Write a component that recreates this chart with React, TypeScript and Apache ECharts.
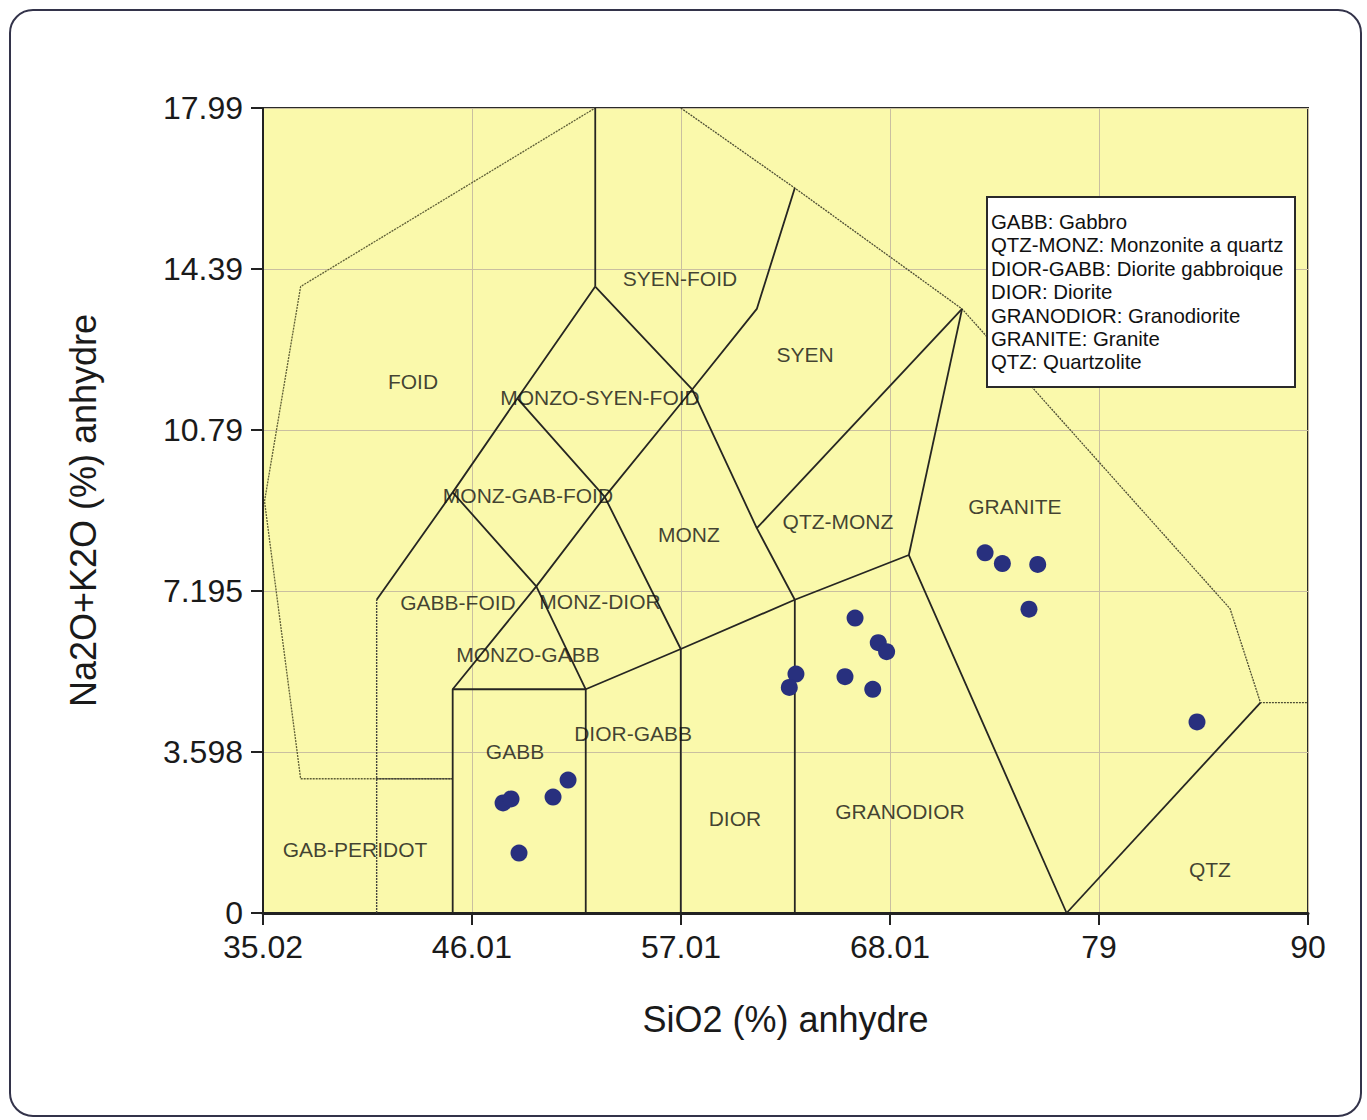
import React, { useEffect, useRef } from "react";
import * as echarts from "echarts";

// Axis ticks
const xTicks = [35.02, 46.01, 57.01, 68.01, 79, 90];
const xTickLabels = ["35.02", "46.01", "57.01", "68.01", "79", "90"];
const yTicks = [0, 3.598, 7.195, 10.79, 14.39, 17.99];
const yTickLabels = ["0", "3.598", "7.195", "10.79", "14.39", "17.99"];

// Classification field boundaries (SiO2, Na2O+K2O)
const outerLeft = [[45, 3], [37, 3], [35.1, 9.2], [37, 14], [52.5, 17.99]];
const outerRight = [[57, 17.99], [63, 16.2], [71.8, 13.5], [85.9, 6.8], [87.5, 4.7], [90, 4.7]];
const dottedBoundaries = [[[41, 0], [41, 7]], [[41, 3], [45, 3]]];
const solidBoundaries = [
  [[52.5, 17.99], [52.5, 14]],
  [[41, 7], [45, 9.4], [48.4, 11.5], [52.5, 14]],
  [[45, 0], [45, 5], [49.4, 7.3], [53, 9.3], [57.6, 11.7]],
  [[45, 9.4], [49.4, 7.3], [52, 5]],
  [[48.4, 11.5], [53, 9.3], [57, 5.9]],
  [[52.5, 14], [57.6, 11.7], [61, 8.6], [63, 7]],
  [[45, 5], [52, 5], [57, 5.9], [63, 7], [69, 8], [77.3, 0]],
  [[52, 0], [52, 5]],
  [[57, 0], [57, 5.9]],
  [[63, 0], [63, 7]],
  [[61, 8.6], [71.8, 13.5]],
  [[69, 8], [71.8, 13.5]],
  [[57.6, 11.7], [61, 13.5], [63, 16.2]],
  [[77.3, 0], [87.5, 4.7]],
];

// Samples
const sio2 = [47.65, 48.07, 50.28, 51.07, 48.49, 66.17, 67.39, 67.83, 63.06, 62.71, 65.64, 67.1, 73.01, 73.92, 75.78, 75.32, 84.16];
const alkalis = [2.46, 2.55, 2.59, 2.97, 1.34, 6.59, 6.04, 5.84, 5.34, 5.04, 5.28, 5.0, 8.05, 7.81, 7.79, 6.79, 4.27];

// Field names
const regionNames = ["FOID", "SYEN-FOID", "SYEN", "MONZO-SYEN-FOID", "MONZ-GAB-FOID", "MONZ", "QTZ-MONZ", "GRANITE", "GABB-FOID", "MONZ-DIOR", "MONZO-GABB", "DIOR-GABB", "GABB", "DIOR", "GRANODIOR", "GAB-PERIDOT", "QTZ"];
const regionX = [42.91, 56.96, 63.54, 52.75, 48.96, 57.43, 65.27, 74.58, 45.28, 52.75, 48.96, 54.49, 48.28, 59.85, 68.53, 39.86, 84.84];
const regionY = [11.87, 14.17, 12.49, 11.53, 9.34, 8.45, 8.76, 9.09, 6.95, 6.97, 5.77, 4.02, 3.6, 2.12, 2.26, 1.43, 0.98];

const legendLines = [
  "GABB: Gabbro",
  "QTZ-MONZ: Monzonite a quartz",
  "DIOR-GABB: Diorite gabbroique",
  "DIOR: Diorite",
  "GRANODIOR: Granodiorite",
  "GRANITE: Granite",
  "QTZ: Quartzolite",
];

const FONT = "'Liberation Sans', Arial, sans-serif";

function labelFor(v: number, ticks: number[], labels: string[]) {
  let best = 0;
  for (let i = 1; i < ticks.length; i++) {
    if (Math.abs(ticks[i] - v) < Math.abs(ticks[best] - v)) best = i;
  }
  return labels[best];
}

export default function App() {
  const ref = useRef<HTMLDivElement>(null);
  useEffect(() => {
    if (!ref.current) return;
    const chart = echarts.init(ref.current, undefined, { renderer: "svg" });

    const lineSeries = (data: number[][], color: string, width: number, type: any) => ({
      type: "line",
      data,
      symbol: "none",
      silent: true,
      z: 3,
      lineStyle: { color, width, type },
    });

    const series: any[] = [];
    series.push(lineSeries(outerLeft, "#5f5f36", 1.3, [2, 1]));
    series.push(lineSeries(outerRight, "#4e4e34", 1.3, [2, 1]));
    dottedBoundaries.forEach((d) => series.push(lineSeries(d, "#45453e", 1.4, [2, 1])));
    solidBoundaries.forEach((d) => series.push(lineSeries(d, "#262622", 1.8, "solid")));

    series.push({
      type: "scatter",
      silent: true,
      z: 5,
      symbol: "circle",
      symbolSize: 1,
      itemStyle: { color: "rgba(0,0,0,0)" },
      label: {
        show: true,
        position: "inside",
        formatter: (p: any) => p.name,
        color: "#111111",
        fontFamily: FONT,
        fontSize: 21,
      },
      data: regionNames.map((n, i) => ({ name: n, value: [regionX[i], regionY[i]] })),
    });

    series.push({
      type: "scatter",
      z: 6,
      symbol: "circle",
      symbolSize: 17,
      itemStyle: { color: "#28307e", opacity: 1 },
      data: sio2.map((x, i) => [x, alkalis[i]]),
    });

    const legendTop = 197;
    const legendLeft = 987;
    const graphic: any[] = [
      {
        type: "rect",
        z: 100,
        shape: { x: legendLeft, y: legendTop, width: 308, height: 190 },
        style: { fill: "#ffffff", stroke: "#2a2a2a", lineWidth: 2 },
      },
      ...legendLines.map((t, i) => ({
        type: "text",
        z: 101,
        x: legendLeft + 4,
        y: legendTop + 25 + i * 23.4,
        style: {
          text: t,
          fill: "#111111",
          font: `20.4px ${FONT}`,
          textVerticalAlign: "middle",
          verticalAlign: "middle",
        },
      })),
    ];

    chart.setOption({
      animation: false,
      grid: {
        left: 263,
        top: 108,
        right: 1367 - 1308,
        bottom: 1120 - 913,
        show: true,
        backgroundColor: "#faf9ab",
        borderColor: "#2a2a2a",
        borderWidth: 2,
      },
      xAxis: {
        type: "value",
        min: 35.02,
        max: 90,
        name: "SiO2 (%) anhydre",
        nameLocation: "middle",
        nameGap: 88,
        nameTextStyle: { fontFamily: FONT, fontSize: 36, color: "#1a1a1a" },
        axisLine: { show: true, lineStyle: { color: "#222", width: 3 } },
        axisTick: { show: true, customValues: xTicks, length: 12, lineStyle: { color: "#222", width: 2 } },
        axisLabel: {
          customValues: xTicks,
          margin: 18,
          fontFamily: FONT,
          fontSize: 32,
          color: "#1a1a1a",
          formatter: (v: number) => labelFor(v, xTicks, xTickLabels),
        },
        splitLine: { show: true, lineStyle: { color: "#c9bfa0", width: 1 } },
      },
      yAxis: {
        type: "value",
        min: 0,
        max: 17.99,
        name: "Na2O+K2O (%) anhydre",
        nameLocation: "middle",
        nameGap: 162,
        nameTextStyle: { fontFamily: FONT, fontSize: 36, color: "#1a1a1a" },
        axisLine: { show: true, lineStyle: { color: "#222", width: 2 } },
        axisTick: { show: true, customValues: yTicks, length: 12, lineStyle: { color: "#222", width: 2 } },
        axisLabel: {
          customValues: yTicks,
          margin: 20,
          fontFamily: FONT,
          fontSize: 32,
          color: "#1a1a1a",
          formatter: (v: number) => labelFor(v, yTicks, yTickLabels),
        },
        splitLine: { show: true, lineStyle: { color: "#c9bfa0", width: 1 } },
      },
      graphic,
      series,
    });

    return () => chart.dispose();
  }, []);

  return (
    <div style={{ position: "absolute", left: 0, top: 0, width: 1367, height: 1120, background: "#ffffff" }}>
      <div
        style={{
          position: "absolute",
          left: 9,
          top: 9,
          width: 1349,
          height: 1104,
          border: "2px solid #33334a",
          borderRadius: 24,
          boxSizing: "content-box",
        }}
      />
      <div ref={ref} style={{ position: "absolute", left: 0, top: 0, width: 1367, height: 1120 }} />
    </div>
  );
}
